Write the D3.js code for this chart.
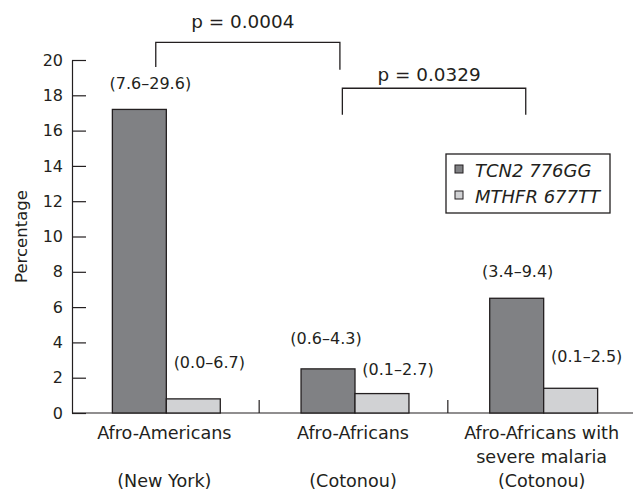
<!DOCTYPE html>
<html>
<head>
<meta charset="utf-8">
<script src="https://cdn.jsdelivr.net/npm/d3@7"></script>
<style>
  html, body { margin: 0; padding: 0; background: #fff; }
  svg { display: block; }
  text { font-family: "DejaVu Sans", sans-serif; fill: #231f20; }
</style>
</head>
<body>
<svg id="chart" width="633" height="492"></svg>
<script>
// ---- data ----
const categories = ["Afro-Americans\n\n(New York)", "Afro-Africans\n\n(Cotonou)", "Afro-Africans with\nsevere malaria\n(Cotonou)"];
const seriesNames = ["TCN2 776GG", "MTHFR 677TT"];
const tcn2Values = [17.2, 2.5, 6.5];
const mthfrValues = [0.8, 1.1, 1.4];
const tcn2CI = ["(7.6\u201329.6)", "(0.6\u20134.3)", "(3.4\u20139.4)"];
const mthfrCI = ["(0.0\u20136.7)", "(0.1\u20132.7)", "(0.1\u20132.5)"];
const yTicks = [0, 2, 4, 6, 8, 10, 12, 14, 16, 18, 20];
const pValues = ["p = 0.0004", "p = 0.0329"];
// comparisons: [from category, to category]
const comparisons = [[0, 1], [1, 2]];

// ---- layout ----
const svg = d3.select("#chart");
const ink = "#231f20";
const colors = ["#808184", "#d1d2d4"];
const y = d3.scaleLinear().domain([0, 20]).range([413, 60]);
const x = d3.scaleBand().domain(categories).range([72, 638]).padding(0);
const barW = x.bandwidth() * 0.286;
const xSeries = d3.scaleBand().domain(seriesNames).range([-barW, barW]);

const series = [tcn2Values, mthfrValues];
const cis = [tcn2CI, mthfrCI];

// baseline
svg.append("line").attr("x1", 72).attr("x2", 633).attr("y1", y(0)).attr("y2", y(0))
  .attr("stroke", ink).attr("stroke-width", 1.2);

// category separators (small upward ticks)
categories.slice(1).forEach(c => {
  svg.append("line").attr("x1", x(c) - 1.5).attr("x2", x(c) - 1.5).attr("y1", y(0)).attr("y2", y(0) - 13)
    .attr("stroke", ink).attr("stroke-width", 1.2);
});

// y axis
const yAxis = d3.axisLeft(y).tickValues(yTicks).tickSizeInner(-14).tickSizeOuter(0).tickPadding(9);
const gy = svg.append("g").attr("transform", "translate(72,0)").call(yAxis);
gy.select(".domain").attr("stroke", ink).attr("stroke-width", 1.2);
gy.selectAll(".tick line").attr("stroke", ink).attr("stroke-width", 1.2);
gy.selectAll(".tick text").attr("font-size", 16).attr("font-family", "DejaVu Sans, sans-serif").attr("fill", ink);

svg.append("text").attr("transform", `translate(27,${(y(0) + y(20)) / 2}) rotate(-90)`)
  .attr("text-anchor", "middle").attr("font-size", 16.5).text("Percentage");

// bars
series.forEach((vals, si) => {
  svg.append("g").selectAll("rect").data(vals).join("rect")
    .attr("x", (d, i) => x(categories[i]) + x.bandwidth() / 2 + xSeries(seriesNames[si]))
    .attr("width", xSeries.bandwidth())
    .attr("y", d => y(d))
    .attr("height", d => y(0) - y(d))
    .attr("fill", colors[si])
    .attr("stroke", ink).attr("stroke-width", 1.3);
});

// CI labels (relative nudges from bar top / centre)
const ciNudge = [
  [[11, -20], [-2, -25], [1, -21]],
  [[16, -31], [16, -19], [16, -26]]
];
cis.forEach((labels, si) => {
  svg.append("g").selectAll("text").data(labels).join("text")
    .attr("x", (d, i) => x(categories[i]) + x.bandwidth() / 2 + xSeries(seriesNames[si]) + xSeries.bandwidth() / 2 + ciNudge[si][i][0])
    .attr("y", (d, i) => y(series[si][i]) + ciNudge[si][i][1])
    .attr("text-anchor", "middle").attr("font-size", 16)
    .text(d => d);
});

// category labels
categories.forEach(c => {
  const lines = c.split("\n");
  const t = svg.append("text").attr("text-anchor", "middle").attr("font-size", 17.6);
  lines.forEach((ln, li) => {
    t.append("tspan").attr("x", x(c) + x.bandwidth() / 2 - 2).attr("y", 439 + li * 24).text(ln);
  });
});

// p-value brackets
const brkLevels = [[21.0, 19.6, 19.45], [18.4, 16.9, 16.9]];
const brkEnds = [[-0.056, -0.08], [-0.067, -0.095]];
const pGap = [14, 7];
comparisons.forEach((cmp, k) => {
  const x1 = x(categories[cmp[0]]) + x.bandwidth() / 2 + brkEnds[k][0] * x.bandwidth();
  const x2 = x(categories[cmp[1]]) + x.bandwidth() / 2 + brkEnds[k][1] * x.bandwidth();
  const lv = brkLevels[k];
  svg.append("path")
    .attr("d", `M${x1},${y(lv[1])}V${y(lv[0])}H${x2}V${y(lv[2])}`)
    .attr("fill", "none").attr("stroke", ink).attr("stroke-width", 1.3);
  svg.append("text").attr("x", (x1 + x2) / 2 - 5).attr("y", y(lv[0]) - pGap[k])
    .attr("text-anchor", "middle").attr("font-size", 18.4).text(pValues[k]);
});

// legend
const lg = svg.append("g").attr("transform", "translate(446,154)");
lg.append("rect").attr("width", 164).attr("height", 59).attr("fill", "#fff")
  .attr("stroke", ink).attr("stroke-width", 1.3);
seriesNames.forEach((s, i) => {
  lg.append("rect").attr("x", 9).attr("y", 11 + i * 26).attr("width", 8).attr("height", 8)
    .attr("fill", colors[i]).attr("stroke", ink).attr("stroke-width", 1);
  lg.append("text").attr("x", 29).attr("y", 23 + i * 26).attr("font-size", 18)
    .attr("font-style", "italic").text(s);
});
</script>
</body>
</html>
